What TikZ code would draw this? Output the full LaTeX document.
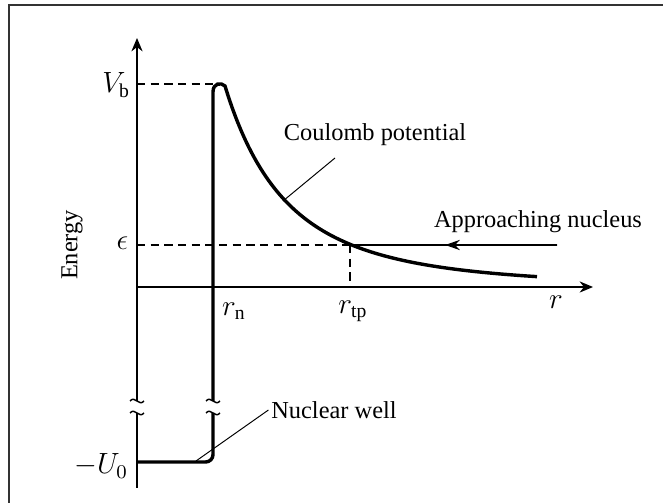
\documentclass[tikz,border=0pt]{standalone}
\usepackage{fontspec}
\setmainfont{Liberation Serif}
\usetikzlibrary{arrows.meta,calc}
\tikzset{
  ax/.style={line width=0.5pt,black},
  axarr/.style={ax,-{Stealth[length=5.5pt,width=4.6pt]}},
  pot/.style={line width=1.4pt,black},
  dsh/.style={line width=0.45pt,dash pattern=on 3.4pt off 2.2pt},
  lead/.style={line width=0.4pt},
  lbl/.style={font=\fontsize{10}{12}\selectfont,inner sep=1pt},
  mlbl/.style={font=\fontsize{11.5}{13}\selectfont,inner sep=1pt},
}
\begin{document}
\begin{tikzpicture}[x=0.41pt,y=-0.41pt]
\useasboundingbox (0,0) rectangle (663,503);
% frame
\draw[line width=0.8pt,black!80] (9,503) -- (9,5) -- (663,5);
% key points
\coordinate (O) at (137,287);
\coordinate (ytop) at (137,38);
\coordinate (xend) at (593,287);
\coordinate (vbax) at (137,84);
\coordinate (vbtop) at (213,84);
\coordinate (epsax) at (137,245);
\coordinate (tp) at (350,245);
\coordinate (tpax) at (350,287);
\coordinate (astart) at (557,245);
\coordinate (ctip) at (283,201);
\coordinate (cfoot) at (335,158);
\coordinate (wtip) at (196,461);
% axes
\draw[axarr] (137,401) -- (ytop);
\draw[ax] (137,413) -- (137,488);
\draw[axarr] (O) -- (xend);
% breaks
\foreach \bx in {137,213}
  \foreach \by in {401,413}
    \draw[line width=0.6pt] (\bx-7,\by) .. controls (\bx-2,\by-6) and (\bx+2,\by+6) .. (\bx+7,\by);
% dashed guides
\draw[dsh] (vbax) -- (vbtop);
\draw[dsh] (epsax) -- (tp);
\draw[dsh] (tp) -- (tpax);
% potential
\draw[pot] (213,401) -- (213,92) .. controls (213,83) and (221,82) .. (225,86)
  -- plot[domain=225:537,samples=80,smooth] (\x,{287-201*(185/(\x-40))^3});
\draw[pot,rounded corners=3pt] (213,413) -- (213,462) -- (137,462);
% approaching nucleus
\draw[line width=0.6pt] (astart) -- (tp);
\draw[line width=0.6pt,-{Stealth[length=6pt,width=4.2pt]}] (astart) -- ($(astart)!0.54!(tp)$);
% labels
\node[mlbl,anchor=east] (vb) at (133,85) {$V_{\mathrm b}$};
\node[mlbl,anchor=east] (eps) at (131,243) {$\epsilon$};
\node[mlbl,anchor=east] (u0) at (131,466) {$-U_0$};
\node[lbl,rotate=90] (en) at (72,245) {Energy};
\node[mlbl] (rn) at (234,311) {$r_{\mathrm n}$};
\node[mlbl] (rtp) at (353,311) {$r_{\mathrm{tp}}$};
\node[mlbl] (rr) at (556,302) {$r$};
\node[lbl] (coul) at (375,135) {Coulomb potential};
\node[lbl] (appr) at (538,222) {Approaching nucleus};
\node[lbl] (nuc) at (334,410) {Nuclear well};
% leaders
\draw[lead] (cfoot) -- (ctip);
\draw[lead] (nuc.west) -- (wtip);
\end{tikzpicture}
\end{document}
